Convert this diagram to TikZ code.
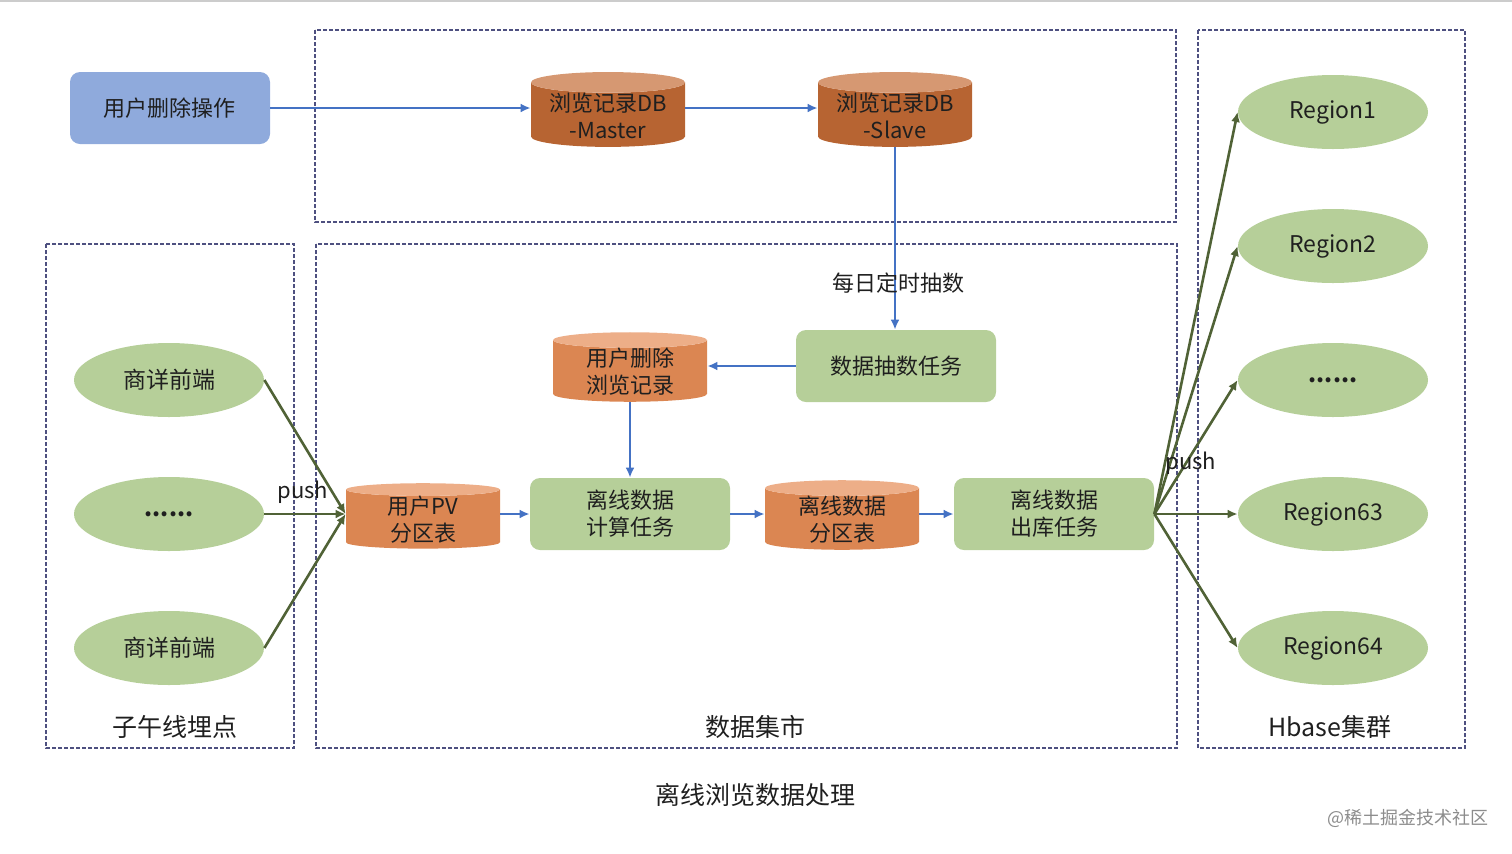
\documentclass[tikz,border=0pt]{standalone}
\usepackage{fontspec}
\usepackage{xcolor}
\usepackage{tikz}
\usetikzlibrary{shapes.geometric,arrows.meta}
\newfontfamily\cjk{Noto Sans CJK SC}
\definecolor{flowblue}{RGB}{68,114,196}
\definecolor{pushgreen}{RGB}{80,98,54}
\definecolor{taskgreen}{RGB}{182,207,153}
\definecolor{userblue}{RGB}{143,170,220}
\definecolor{dbbrown}{RGB}{183,100,50}
\definecolor{dbbrowntop}{RGB}{214,152,114}
\definecolor{tborange}{RGB}{219,134,82}
\definecolor{tborangetop}{RGB}{237,174,136}
\definecolor{framegray}{RGB}{78,80,128}

\begin{document}
\begin{tikzpicture}[x=0.5pt,y=-0.5pt,
	font=\cjk\fontsize{11}{13.5}\selectfont,text=black!88,
	task/.style={rectangle,rounded corners=5pt,fill=taskgreen,minimum width=100pt,minimum height=36pt,align=center},
	db/.style={cylinder,shape border rotate=90,aspect=0.17,cylinder uses custom fill,cylinder body fill=tborange,cylinder end fill=tborangetop,minimum width=77pt,minimum height=32pt,align=center,inner xsep=1pt,inner ysep=0pt,yshift=-3pt},
	srcdb/.style={db,cylinder body fill=dbbrown,cylinder end fill=dbbrowntop},
	probe/.style={ellipse,fill=taskgreen,minimum width=95pt,minimum height=37pt,inner sep=0pt,font=\cjk\fontsize{11.5}{13.5}\selectfont},
	frame/.style={draw=framegray,dashed,dash pattern=on 2pt off 1pt,line width=0.6pt},
	flow/.style={draw=flowblue,line width=1.35pt,-{Latex[length=5pt,width=4.5pt]}},
	push/.style={draw=pushgreen,line width=1.3pt,-{Latex[length=5pt,width=4.5pt]}},
	caption/.style={font=\cjk\fontsize{12.5}{15}\selectfont}]
	\useasboundingbox (0,0) rectangle (1512,853);
	\draw[black!20,line width=1.2pt] (0,1) -- (1512,1);

	% frames
	\draw[frame] (315,30) rectangle (1176,222);
	\draw[frame] (46,244) rectangle (294,748);
	\draw[frame] (316,244) rectangle (1177,748);
	\draw[frame] (1198,30) rectangle (1465,748);

	% top row
	\node[rectangle,rounded corners=5pt,fill=userblue,minimum width=100pt,minimum height=36pt] (del) at (170,108) {用户删除操作};
	\node[srcdb] (master) at (608,110) {浏览记录DB\\-Master};
	\node[srcdb] (slave) at (895,110) {浏览记录DB\\-Slave};
	\draw[flow] (del.east) -- (del.east -| master.west);
	\draw[flow] (master.east |- del.east) -- (del.east -| slave.west);

	% data mart
	\node[task] (extract) at (896,366) {数据抽数任务};
	\node[db] (deldb) at (630,366) {用户删除\\浏览记录};
	\node[db] (pv) at (423,514) {用户PV\\分区表};
	\node[task] (calc) at (630,514) {离线数据\\计算任务};
	\node[db] (part) at (842,514) {离线数据\\分区表};
	\node[task] (out) at (1054,514) {离线数据\\出库任务};
	\draw[flow] (slave.south) -- (slave.south |- extract.north);
	\node (daily) at (898,283) {每日定时抽数};
	\draw[flow] (extract.west) -- (extract.west -| deldb.east);
	\draw[flow] (deldb.south) -- (calc.north);
	\draw[flow] (pv.east |- calc.west) -- (calc.west);
	\draw[flow] (calc.east) -- (calc.east -| part.west);
	\draw[flow] (part.east |- out.west) -- (out.west);

	% probes
	\node[probe] (fe1) at (169,380) {商详前端};
	\node[probe] (fe2) at (169,514) {\textbf{......}};
	\node[probe] (fe3) at (169,648) {商详前端};
	\coordinate (pvin) at (pv.west |- fe2.east);
	\foreach \f in {fe1,fe2,fe3}
		\draw[push] (\f.east) -- (pvin);
	\node (push1) at (303,492) {push};

	% hbase
	\node[probe] (r1) at (1333,112) {Region1};
	\node[probe] (r2) at (1333,246) {Region2};
	\node[probe] (r3) at (1333,380) {\textbf{......}};
	\node[probe] (r63) at (1333,514) {Region63};
	\node[probe] (r64) at (1333,648) {Region64};
	\foreach \r in {r1,r2,r3,r63,r64}
		\draw[push] (out.east) -- (\r.west);
	\node (push2) at (1191,463) {push};

	% captions
	\node[caption] (cap1) at (175,727) {子午线埋点};
	\node[caption] (cap2) at (755,727) {数据集市};
	\node[caption] (cap3) at (1330,727) {Hbase集群};
	\node[caption] (title) at (755,795) {离线浏览数据处理};
	\node[font=\cjk\fontsize{9}{11}\selectfont,text=black!45] (mark) at (1408,818) {@稀土掘金技术社区};
\end{tikzpicture}
\end{document}
